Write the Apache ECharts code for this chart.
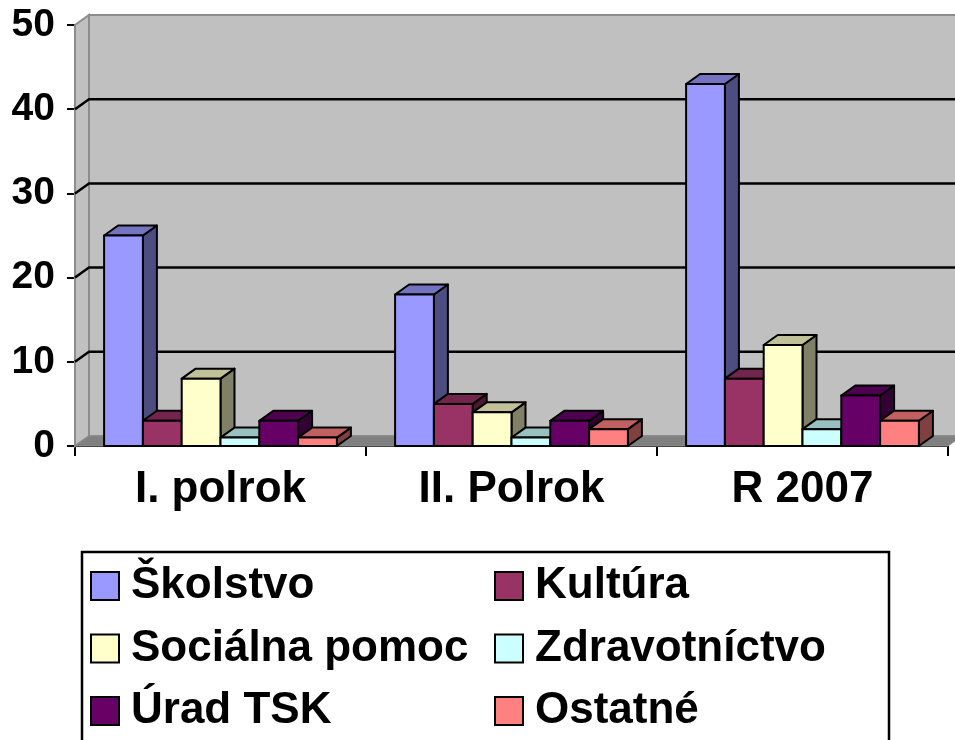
<!DOCTYPE html>
<html>
<head>
<meta charset="utf-8">
<script src="https://cdn.jsdelivr.net/npm/echarts@6/dist/echarts.min.js"></script>
<style>html,body{margin:0;padding:0;background:#fff;}#c{width:955px;height:740px;}</style>
</head>
<body>
<div id="c"></div>
<script>
const categories = ['I. polrok', 'II. Polrok', 'R 2007'];
const seriesNames = ['Školstvo', 'Kultúra', 'Sociálna pomoc', 'Zdravotníctvo', 'Úrad TSK', 'Ostatné'];
const skolstvo = [25, 18, 43];
const kultura = [3, 5, 8];
const socialna = [8, 4, 12];
const zdravotnictvo = [1, 1, 2];
const urad = [3, 3, 6];
const ostatne = [1, 2, 3];
const yMin = 0, yMax = 50, yStep = 10;

const seriesValues = [skolstvo, kultura, socialna, zdravotnictvo, urad, ostatne];
const frontColors = ['#9999FF', '#993366', '#FFFFCC', '#CCFFFF', '#660066', '#FF8080'];
const topColors   = ['#7373C0', '#73264D', '#C0C099', '#99C0C0', '#4D004D', '#C06060'];
const sideColors  = ['#4D4D80', '#4D1A33', '#808066', '#668080', '#330033', '#804040'];

const DX = 14, DY = 10; // depth offset
const FONT = 'Liberation Sans, Arial, sans-serif';

function barRenderer(s) {
  return function (params, api) {
    const ci = api.value(0), v = api.value(1);
    const top = api.coord([ci, v]);
    const base = api.coord([ci, 0]);
    const cw = api.size([1, 0])[0];
    const w = cw * 0.8 / 6;
    const x0 = top[0] - cw * 0.4 + s * w;
    const x1 = x0 + w;
    const yt = top[1], yb = base[1];
    const ls = { stroke: '#000', lineWidth: 2, lineJoin: 'round' };
    return {
      type: 'group',
      children: [
        { type: 'polygon', shape: { points: [[x1, yt], [x1 + DX, yt - DY], [x1 + DX, yb - DY], [x1, yb]] },
          style: Object.assign({ fill: sideColors[s] }, ls) },
        { type: 'polygon', shape: { points: [[x0, yt], [x0 + DX, yt - DY], [x1 + DX, yt - DY], [x1, yt]] },
          style: Object.assign({ fill: topColors[s] }, ls) },
        { type: 'rect', shape: { x: x0, y: yt, width: w, height: yb - yt },
          style: Object.assign({ fill: frontColors[s] }, ls) }
      ]
    };
  };
}

function wallRenderer(params, api) {
  const cs = params.coordSys;
  const xl = cs.x, xr = cs.x + cs.width;
  const y0 = api.coord([0, yMin])[1];
  const yTop = api.coord([0, yMax])[1];
  const children = [];
  children.push({ type: 'rect', shape: { x: xl + DX, y: yTop - DY, width: cs.width + DX, height: y0 - yTop },
    style: { fill: '#C0C0C0', stroke: '#8C8C8C', lineWidth: 2 } });
  children.push({ type: 'polygon', shape: { points: [[xl, y0], [xl, yTop], [xl + DX, yTop - DY], [xl + DX, y0 - DY]] },
    style: { fill: '#C0C0C0', stroke: '#8C8C8C', lineWidth: 2 } });
  children.push({ type: 'polygon', shape: { points: [[xl, y0], [xl + DX, y0 - DY], [xr + DX, y0 - DY], [xr, y0]] },
    style: { fill: '#808080', stroke: '#8C8C8C', lineWidth: 1 } });
  for (let v = yMin + yStep; v < yMax; v += yStep) {
    const y = api.coord([0, v])[1];
    children.push({ type: 'polyline', shape: { points: [[xl, y], [xl + DX, y - DY], [xr + DX + 10, y - DY]] },
      style: { stroke: '#000', lineWidth: 2.5, fill: null } });
  }
  return { type: 'group', children: children };
}

const series = [{
  type: 'custom',
  name: '__wall',
  silent: true,
  z: 1,
  renderItem: wallRenderer,
  data: [[0, 0]],
  encode: { x: 0, y: 1 }
}];
seriesNames.forEach(function (name, s) {
  series.push({
    type: 'custom',
    name: name,
    z: 2,
    renderItem: barRenderer(s),
    itemStyle: { color: frontColors[s], borderColor: '#000', borderWidth: 2 },
    encode: { x: 0, y: 1 },
    data: seriesValues[s].map(function (v, i) { return [i, v]; })
  });
});

const legendCommon = {
  orient: 'vertical',
  icon: 'rect',
  itemWidth: 28,
  itemHeight: 28,
  itemGap: 18.5,
  top: 564,
  height: 240,
  padding: 0,
  itemStyle: { borderColor: '#000', borderWidth: 2 },
  textStyle: { fontFamily: FONT, fontWeight: 'bold', fontSize: 44, color: '#000', lineHeight: 44, padding: [0, 0, 0, 7] },
  selectedMode: false
};

const chart = echarts.init(document.getElementById('c'), null, { renderer: 'canvas' });
chart.setOption({
  animation: false,
  backgroundColor: '#fff',
  grid: { left: 75, right: 7, top: 25, bottom: 294, containLabel: false },
  xAxis: {
    type: 'category',
    data: categories,
    axisLine: { show: true, lineStyle: { color: '#000', width: 2 } },
    axisTick: { show: true, length: 10, lineStyle: { color: '#000', width: 2 } },
    axisLabel: { fontFamily: FONT, fontWeight: 'bold', fontSize: 44, color: '#000', margin: 22 },
    splitLine: { show: false }
  },
  yAxis: {
    type: 'value',
    min: yMin, max: yMax, interval: yStep,
    axisLine: { show: true, lineStyle: { color: '#000', width: 2 } },
    axisTick: { show: true, length: 8, lineStyle: { color: '#000', width: 2 } },
    axisLabel: { fontFamily: FONT, fontWeight: 'bold', fontSize: 39, color: '#000', margin: 20 },
    splitLine: { show: false }
  },
  legend: [
    Object.assign({}, legendCommon, { left: 90, data: [seriesNames[0], seriesNames[2], seriesNames[4]] }),
    Object.assign({}, legendCommon, { left: 494, data: [seriesNames[1], seriesNames[3], seriesNames[5]] })
  ],
  graphic: [{
    type: 'rect',
    shape: { x: 82, y: 552, width: 807, height: 220 },
    style: { fill: null, stroke: '#000', lineWidth: 2.5 },
    z: 0
  }],
  series: series
});
</script>
</body>
</html>
